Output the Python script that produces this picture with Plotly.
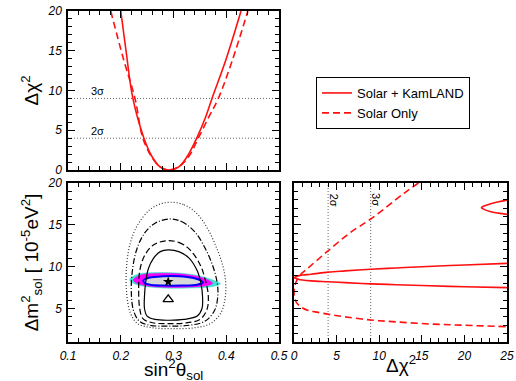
import plotly.graph_objects as go

# ---------------- data ----------------
# top panel: delta chi^2 vs sin^2 theta
sk_x = [0.200, 0.210, 0.223, 0.244, 0.260, 0.275, 0.290, 0.310, 0.325, 0.344, 0.360, 0.373, 0.400, 0.428]
sk_y = [20.0, 15.0, 9.0, 4.0, 1.6, 0.35, 0.0, 0.4, 1.6, 4.0, 6.5, 9.0, 14.0, 20.0]
so_x = [0.181, 0.205, 0.227, 0.242, 0.260, 0.275, 0.290, 0.310, 0.330, 0.347, 0.368, 0.385, 0.410, 0.441]
so_y = [20.0, 14.0, 9.0, 4.0, 1.5, 0.4, 0.0, 0.4, 1.8, 4.0, 6.8, 9.0, 13.5, 20.0]
sigma_levels = [4, 9]
sigma_labels = ["2σ", "3σ"]

# bottom-left: allowed regions (sin^2 theta, dm^2)
c1_x = [0.290, 0.310, 0.330, 0.345, 0.352, 0.355, 0.354, 0.345, 0.320, 0.290, 0.265, 0.250, 0.245, 0.245, 0.247, 0.252, 0.262, 0.275, 0.290]
c1_y = [12.0, 11.8, 11.0, 9.5, 8.0, 6.5, 5.0, 4.1, 3.7, 3.6, 3.7, 4.1, 5.0, 6.5, 8.0, 9.7, 11.0, 11.8, 12.0]
c2_x = [0.287, 0.310, 0.330, 0.350, 0.360, 0.366, 0.363, 0.350, 0.320, 0.290, 0.260, 0.242, 0.236, 0.234, 0.236, 0.245, 0.262, 0.287]
c2_y = [13.1, 12.9, 12.1, 10.3, 8.5, 6.5, 4.8, 3.7, 3.25, 3.2, 3.3, 3.8, 5.0, 7.0, 9.5, 11.3, 12.6, 13.1]
c3_x = [0.293, 0.315, 0.340, 0.360, 0.375, 0.383, 0.384, 0.378, 0.360, 0.330, 0.290, 0.255, 0.235, 0.224, 0.220, 0.222, 0.230, 0.245, 0.265, 0.293]
c3_y = [15.7, 15.4, 14.2, 12.2, 10.0, 8.0, 6.5, 4.8, 3.5, 3.0, 2.9, 3.0, 3.5, 4.8, 7.0, 9.5, 12.0, 14.0, 15.2, 15.7]
c4_x = [0.295, 0.320, 0.345, 0.365, 0.382, 0.394, 0.399, 0.398, 0.390, 0.370, 0.340, 0.300, 0.260, 0.232, 0.218, 0.211, 0.211, 0.218, 0.232, 0.255, 0.275, 0.295]
c4_y = [17.7, 17.4, 16.3, 14.5, 12.2, 10.0, 8.0, 6.3, 4.5, 3.2, 2.7, 2.6, 2.7, 3.2, 4.5, 7.0, 10.0, 12.8, 15.0, 16.8, 17.5, 17.7]

cy_x = [0.217, 0.232, 0.270, 0.310, 0.350, 0.375, 0.389, 0.372, 0.330, 0.280, 0.240, 0.221, 0.217]
cy_y = [8.5, 9.1, 9.3, 9.25, 8.9, 8.4, 7.95, 7.6, 7.45, 7.45, 7.7, 8.1, 8.5]
mg_x = [0.224, 0.238, 0.270, 0.310, 0.348, 0.366, 0.374, 0.360, 0.320, 0.280, 0.245, 0.228, 0.224]
mg_y = [8.45, 9.0, 9.2, 9.15, 8.8, 8.4, 8.0, 7.7, 7.55, 7.55, 7.75, 8.1, 8.45]
bl_x = [0.243, 0.255, 0.280, 0.310, 0.338, 0.352, 0.356, 0.345, 0.315, 0.280, 0.255, 0.245, 0.243]
bl_y = [8.35, 8.7, 8.85, 8.85, 8.65, 8.35, 8.1, 7.85, 7.75, 7.75, 7.85, 8.05, 8.35]
best_fit = (0.290, 8.2)
solar_best = (0.290, 6.1)

# bottom-right: delta chi^2 vs dm^2
r_sk_up_x = [0, 0.5, 1, 2, 4, 6, 9, 12, 15, 20, 25]
r_sk_up_y = [8.7, 8.9, 9.0, 9.1, 9.35, 9.5, 9.7, 9.85, 10.0, 10.2, 10.4]
r_sk_lo_x = [0, 0.5, 1, 2, 4, 6, 9, 12, 15, 20, 25]
r_sk_lo_y = [8.7, 8.5, 8.4, 8.3, 8.2, 8.1, 7.95, 7.85, 7.75, 7.6, 7.5]
r_sk_hi_x = [25, 24, 23, 22.3, 22.0, 22.3, 23, 24, 25]
r_sk_hi_y = [17.95, 17.75, 17.5, 17.25, 17.05, 16.85, 16.6, 16.4, 16.25]
r_so_x = [14.6, 12.95, 9.15, 6.5, 4.07, 2.5, 1.5, 0.8, 0.3, 0.05, 0.0, 0.05, 0.3, 0.8, 1.6, 2.5, 4.1, 6.0, 9.0, 12.0, 16.0, 20.0, 25.0]
r_so_y = [20.0, 18.8, 15.8, 14.0, 11.95, 10.6, 9.7, 9.1, 8.3, 7.5, 7.0, 6.4, 5.7, 5.2, 4.8, 4.6, 4.3, 4.0, 3.63, 3.4, 3.15, 3.0, 2.83]

x_tick_vals = [0.1, 0.2, 0.3, 0.4, 0.5]
x_tick_text = ["0.1", "0.2", "0.3", "0.4", "0.5"]
x_titles = ["sin<sup>2</sup>θ<sub>sol</sub>", "Δχ<sup>2</sup>"]

RED = "#ff1010"
W, H = 516, 381

fig = go.Figure()

# ---- top panel ----
for lvl, lab in zip(sigma_levels, sigma_labels):
    fig.add_trace(go.Scatter(x=[0.1, 0.5], y=[lvl, lvl], mode="lines",
                             line=dict(color="#666666", width=1, dash="1px,2px"),
                             showlegend=False, xaxis="x", yaxis="y"))
    fig.add_annotation(x=0.155, y=lvl + 0.95, text=lab, showarrow=False, xref="x", yref="y",
                       font=dict(size=11, color="black", family="Liberation Sans"))
fig.add_trace(go.Scatter(x=sk_x, y=sk_y, mode="lines", line=dict(color=RED, width=1.6, shape="spline"),
                         name="Solar + KamLAND", xaxis="x", yaxis="y"))
fig.add_trace(go.Scatter(x=so_x, y=so_y, mode="lines",
                         line=dict(color=RED, width=1.6, shape="spline", dash="7px,4px"),
                         name="Solar Only", xaxis="x", yaxis="y"))

# ---- bottom-left panel ----
for xs, ys, col in [(cy_x, cy_y, "#3fe0d0"), (mg_x, mg_y, "#ff00ff")]:
    fig.add_trace(go.Scatter(x=xs, y=ys, mode="lines", fill="toself", fillcolor=col,
                             line=dict(color=col, width=0.5, shape="spline"),
                             showlegend=False, xaxis="x2", yaxis="y2"))
fig.add_trace(go.Scatter(x=bl_x, y=bl_y, mode="lines", fill="toself", fillcolor="#d8d8d8",
                         line=dict(color="#0000ff", width=2, shape="spline"),
                         showlegend=False, xaxis="x2", yaxis="y2"))
for xs, ys, dsh, col in [(c1_x, c1_y, "solid", "black"), (c2_x, c2_y, "6px,3px", "black"),
                         (c3_x, c3_y, "6px,2px,1px,2px", "black"), (c4_x, c4_y, "1px,2px", "#333333")]:
    fig.add_trace(go.Scatter(x=xs, y=ys, mode="lines",
                             line=dict(color=col, width=1.2, dash=dsh, shape="spline"),
                             showlegend=False, xaxis="x2", yaxis="y2"))
fig.add_trace(go.Scatter(x=[best_fit[0]], y=[best_fit[1]], mode="markers",
                         marker=dict(symbol="star", size=8, color="black"),
                         showlegend=False, xaxis="x2", yaxis="y2"))
fig.add_trace(go.Scatter(x=[solar_best[0]], y=[solar_best[1]], mode="markers",
                         marker=dict(symbol="triangle-up-open", size=9, color="black", line=dict(width=1.3)),
                         showlegend=False, xaxis="x2", yaxis="y2"))

# ---- bottom-right panel ----
for lvl, lab in zip(sigma_levels, sigma_labels):
    fig.add_trace(go.Scatter(x=[lvl, lvl], y=[1, 20], mode="lines",
                             line=dict(color="#666666", width=1, dash="1px,2px"),
                             showlegend=False, xaxis="x3", yaxis="y3"))
    fig.add_annotation(x=lvl + 0.7, y=18.0, text=lab, showarrow=False, textangle=90, xref="x3", yref="y3",
                       font=dict(size=11, color="black", family="Liberation Sans"))
for xs, ys in [(r_sk_up_x, r_sk_up_y), (r_sk_lo_x, r_sk_lo_y), (r_sk_hi_x, r_sk_hi_y)]:
    fig.add_trace(go.Scatter(x=xs, y=ys, mode="lines", line=dict(color=RED, width=1.6, shape="spline"),
                             showlegend=False, xaxis="x3", yaxis="y3"))
fig.add_trace(go.Scatter(x=r_so_x, y=r_so_y, mode="lines",
                         line=dict(color=RED, width=1.6, shape="spline", dash="7px,4px"),
                         showlegend=False, xaxis="x3", yaxis="y3"))

tickfont = dict(family="Liberation Sans", size=12, color="black", style="italic")
titlefont = dict(family="Liberation Sans", size=19, color="black")

def ax(domain, rng, dtick, minor, showlabels=True, anchor=None, title=None, tickvals=None, ticktext=None):
    d = dict(domain=domain, range=rng, showline=True, linecolor="black", linewidth=1.5,
             mirror="allticks", ticks="inside", ticklen=7, tickwidth=1.2, tickcolor="black",
             dtick=dtick, tick0=0, showgrid=False, zeroline=False, showticklabels=showlabels,
             tickfont=tickfont, anchor=anchor, automargin=False, ticklabelstandoff=2,
             minor=dict(ticks="inside", ticklen=4, tickwidth=1, tickcolor="black", dtick=minor, showgrid=False))
    if tickvals is not None:
        d.update(tickmode="array", tickvals=tickvals, ticktext=ticktext)
    if title:
        d["title"] = dict(text=title, font=titlefont, standoff=4)
    return d

xl = [68 / W, 279 / W]
xr = [294 / W, 507 / W]
yt = [1 - 170 / H, 1 - 11 / H]
yb = [1 - 342 / H, 1 - 183 / H]

# x-axis titles placed under the two bottom panels
for dom, txt, ybot in zip([xl, xr], x_titles, [385, 378]):
    fig.add_annotation(x=(dom[0] + dom[1]) / 2, y=1 - ybot / H, xref="paper", yref="paper",
                       xanchor="center", yanchor="bottom", text=txt, showarrow=False,
                       font=titlefont)

fig.update_layout(
    template="none",
    width=W, height=H, margin=dict(l=0, r=0, t=0, b=0, pad=0),
    paper_bgcolor="white", plot_bgcolor="white",
    xaxis=ax(xl, [0.1, 0.5], 0.1, 0.02, showlabels=False, anchor="y"),
    yaxis=ax(yt, [0, 20], 5, 1, anchor="x", title="Δχ<sup>2</sup>"),
    xaxis2=ax(xl, [0.1, 0.5], 0.1, 0.02, anchor="y2", tickvals=x_tick_vals, ticktext=x_tick_text),
    yaxis2=ax(yb, [1, 20], 5, 1, anchor="x2",
              title="Δm<sup>2</sup><sub>sol</sub> [ 10<sup>-5</sup>eV<sup>2</sup>]"),
    xaxis3=ax(xr, [0, 25], 5, 1, anchor="y3"),
    yaxis3=ax(yb, [1, 20], 5, 1, showlabels=False, anchor="x3"),
    showlegend=True,
    legend=dict(x=316 / W, y=1 - 77 / H, xanchor="left", yanchor="top",
                bordercolor="black", borderwidth=1, bgcolor="white",
                font=dict(family="Liberation Sans", size=13, color="black"),
                tracegroupgap=0, itemwidth=30),
)

fig.write_html("out.html", config={"displayModeBar": False},
               post_script="document.body.style.margin='0';document.body.style.overflow='hidden';")
